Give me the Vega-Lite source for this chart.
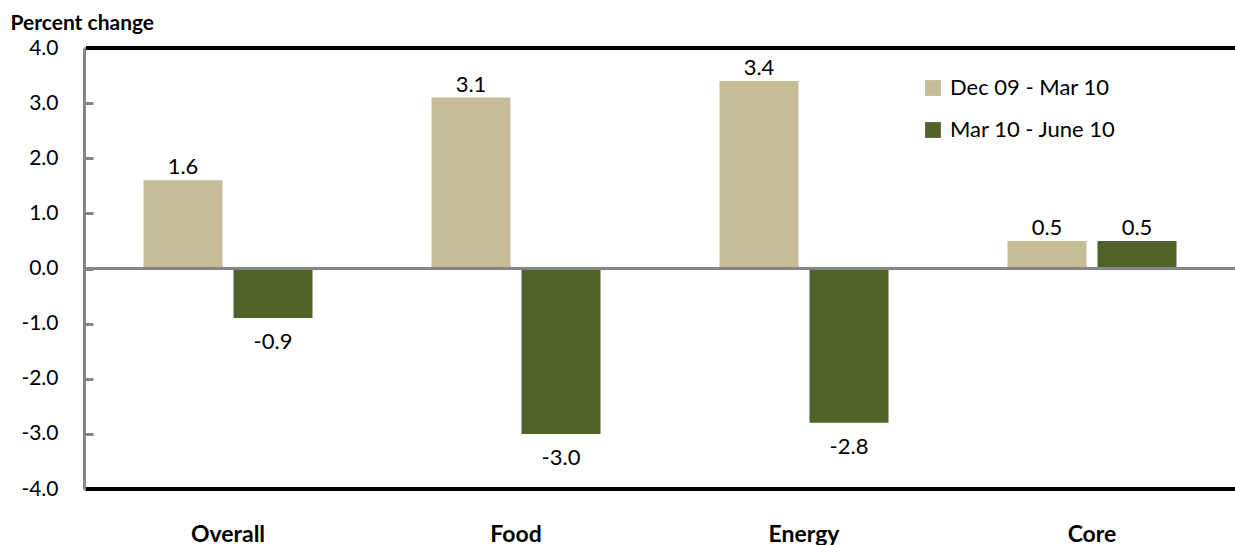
{
  "$schema": "https://vega.github.io/schema/vega-lite/v6.json",
  "width": 1152,
  "height": 441,
  "autosize": {"type": "none"},
  "padding": {"left": 84, "top": 48, "right": 0, "bottom": 56},
  "background": "white",
  "config": {
    "view": {"stroke": null},
    "font": "Lato",
    "text": {"font": "Lato"},
    "locale": {"number": {"decimal": ".", "thousands": ",", "grouping": [3], "currency": ["$", ""], "minus": "-"}}
  },
  "data": {
    "values": [
      {"cat": "Overall", "series": "Dec 09 - Mar 10", "value": 1.6},
      {"cat": "Overall", "series": "Mar 10 - June 10", "value": -0.9},
      {"cat": "Food", "series": "Dec 09 - Mar 10", "value": 3.1},
      {"cat": "Food", "series": "Mar 10 - June 10", "value": -3.0},
      {"cat": "Energy", "series": "Dec 09 - Mar 10", "value": 3.4},
      {"cat": "Energy", "series": "Mar 10 - June 10", "value": -2.8},
      {"cat": "Core", "series": "Dec 09 - Mar 10", "value": 0.5},
      {"cat": "Core", "series": "Mar 10 - June 10", "value": 0.5}
    ]
  },
  "encoding": {
    "x": {
      "field": "cat", "type": "nominal",
      "sort": ["Overall", "Food", "Energy", "Core"],
      "scale": {"paddingInner": 0, "paddingOuter": 0},
      "axis": {
        "title": null, "labelAngle": 0, "ticks": false, "domain": false,
        "labelFont": "Lato", "labelFontSize": 23, "labelFontWeight": "bold",
        "labelColor": "black", "labelBaseline": "alphabetic", "labelPadding": 52
      }
    },
    "xOffset": {
      "field": "series", "type": "nominal",
      "scale": {"paddingInner": 0.122, "paddingOuter": 0.661}
    },
    "y": {
      "field": "value", "type": "quantitative",
      "scale": {"domain": [-4, 4], "nice": false},
      "axis": {
        "title": "Percent change", "titleAngle": 0, "titleAlign": "left",
        "titleBaseline": "alphabetic", "titleX": -74, "titleY": -19,
        "titleFont": "Lato", "titleFontSize": 21, "titleFontWeight": "bold", "titleColor": "black",
        "values": [-4, -3, -2, -1, 0, 1, 2, 3, 4], "format": ".1f",
        "grid": false, "domainColor": "#868686", "domainWidth": 3,
        "tickColor": "#868686", "tickWidth": 3, "tickSize": -9,
        "labelFont": "Lato", "labelFontSize": 21, "labelColor": "black", "labelPadding": 35
      }
    }
  },
  "layer": [
    {
      "mark": {"type": "bar"},
      "encoding": {
        "color": {
          "field": "series", "type": "nominal",
          "scale": {"domain": ["Dec 09 - Mar 10", "Mar 10 - June 10"], "range": ["#C4BD97", "#4F6228"]},
          "legend": {
            "title": null, "orient": "none", "legendX": 838, "legendY": 29,
            "symbolType": "square", "symbolSize": 250, "symbolStrokeWidth": 0,
            "labelFont": "Lato", "labelFontSize": 22, "labelColor": "black", "labelLimit": 400,
            "rowPadding": 20, "labelOffset": 6
          }
        }
      }
    },
    {
      "transform": [{"filter": "datum.value >= 0"}],
      "mark": {"type": "text", "baseline": "alphabetic", "dy": -6, "fontSize": 22, "color": "black"},
      "encoding": {"text": {"field": "value", "type": "quantitative", "format": ".1f"}}
    },
    {
      "transform": [{"filter": "datum.value < 0"}],
      "mark": {"type": "text", "baseline": "top", "dy": 14, "fontSize": 22, "color": "black"},
      "encoding": {"text": {"field": "value", "type": "quantitative", "format": ".1f"}}
    },
    {
      "mark": {"type": "rule", "color": "#868686", "strokeWidth": 3},
      "encoding": {"y": {"datum": 0}, "x": {"value": 0}, "x2": {"value": 1152}, "xOffset": null}
    },
    {
      "mark": {"type": "rule", "color": "black", "strokeWidth": 3},
      "encoding": {"y": {"datum": 4}, "x": {"value": 2}, "x2": {"value": 1152}, "xOffset": null}
    },
    {
      "mark": {"type": "rule", "color": "black", "strokeWidth": 3},
      "encoding": {"y": {"datum": -4}, "x": {"value": 2}, "x2": {"value": 1152}, "xOffset": null}
    }
  ]
}
